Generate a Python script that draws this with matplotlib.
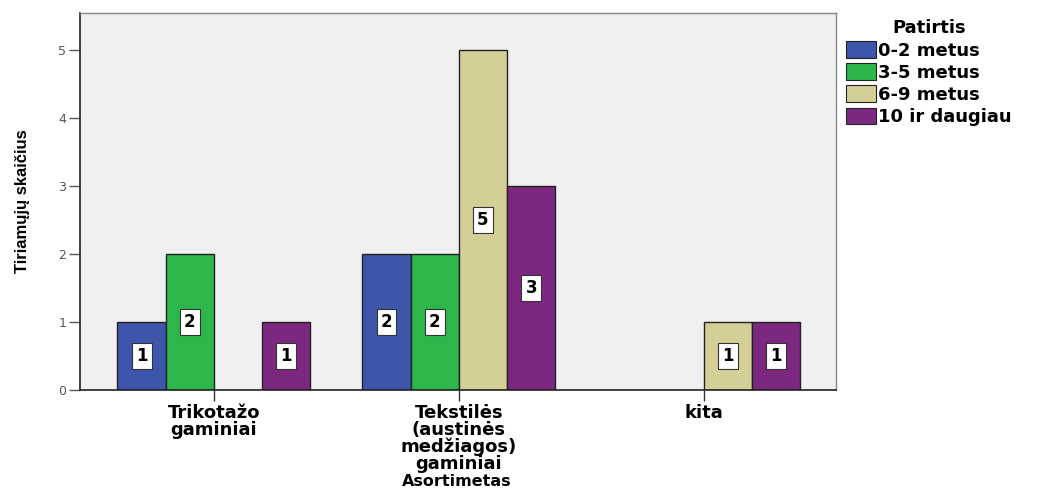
import numpy as np
import matplotlib.pyplot as plt
from matplotlib.patches import Patch

categories = ['Trikotažo\ngaminiai', 'Tekstilės\n(austinės\nmedžiagos)\ngaminiai', 'kita']
series = ['0-2 metus', '3-5 metus', '6-9 metus', '10 ir daugiau']
values = [
    [1, 2, 0],   # 0-2 metus
    [2, 2, 0],   # 3-5 metus
    [0, 5, 1],   # 6-9 metus
    [1, 3, 1],   # 10 ir daugiau
]
colors = ['#3d56ab', '#2db64a', '#d4cf96', '#7d2880']

plt.rcParams['font.family'] = ['DejaVu Sans']

fig = plt.figure(figsize=(10.57, 4.91), dpi=100)
ax = fig.add_axes([0.0757, 0.206, 0.715, 0.768])
ax.set_facecolor('#f0f0f0')

x = np.arange(len(categories))
w = 0.197
for i, (name, vals) in enumerate(zip(series, values)):
    pos = x + (i - 1.5) * w
    for p, v in zip(pos, vals):
        if v == 0:
            continue
        ax.bar(p, v, width=w, color=colors[i], edgecolor='#222222', linewidth=1.0)
        ax.text(p, v / 2, str(v), ha='center', va='center', fontsize=12,
                fontweight='bold',
                bbox=dict(boxstyle='square,pad=0.25', fc='white', ec='#333333', lw=0.8))

ax.set_xlim(-0.547, 2.539)
ax.set_ylim(0, 5.54)
ax.set_yticks(range(6))
ax.tick_params(axis='y', labelsize=9, labelcolor='#555555', length=8, width=1,
               color='#555555', pad=2)
ax.set_xticks(x)
ax.set_xticklabels(categories, fontsize=13, fontweight='bold', linespacing=0.92)
ax.tick_params(axis='x', length=8, width=1, color='#333333', pad=2)

for s in ['top', 'right']:
    ax.spines[s].set_color('#888888')
    ax.spines[s].set_linewidth(1)
for s in ['left', 'bottom']:
    ax.spines[s].set_color('#222222')
    ax.spines[s].set_linewidth(1.2)

ax.set_ylabel('Tiriamųjų skaičius', fontsize=12, fontweight='bold',
              family=['Liberation Sans', 'DejaVu Sans'], labelpad=20)
ax.set_xlabel('Asortimetas', fontsize=11.5, fontweight='bold', va='center')
ax.xaxis.set_label_coords(0.498, -0.244)

handles = [Patch(facecolor=c, edgecolor='#222222', linewidth=0.8) for c in colors]
leg = fig.legend(handles, series, title='Patirtis', loc='upper left',
                 bbox_to_anchor=(0.794, 0.975), frameon=False,
                 prop={'size': 13, 'weight': 'bold'},
                 title_fontproperties={'size': 13, 'weight': 'bold'},
                 handlelength=1.65, handleheight=1.05, handletextpad=0.1,
                 labelspacing=0.2, borderaxespad=0)

fig.savefig('out.png', dpi=100)
